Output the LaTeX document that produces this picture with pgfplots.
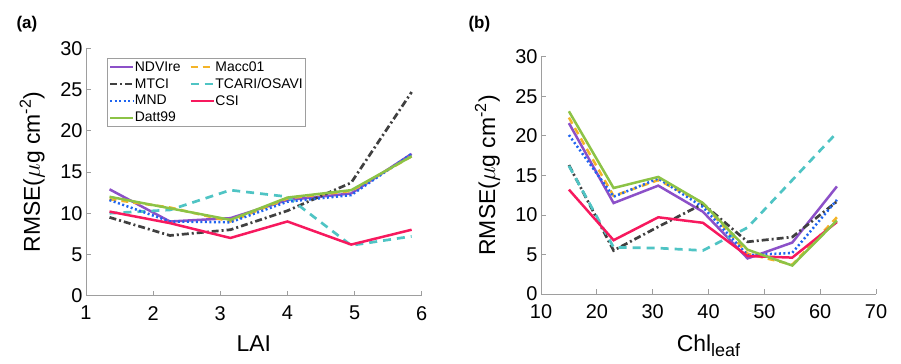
\documentclass[border=0pt]{standalone}
\usepackage{fontspec}
\setmainfont{Liberation Sans}
\usepackage{pgfplots}
\pgfplotsset{compat=1.18}
\definecolor{cNDVI}{HTML}{8C50C8}
\definecolor{cMacc}{HTML}{F4B428}
\definecolor{cMTCI}{HTML}{404040}
\definecolor{cTCARI}{HTML}{4FC4C4}
\definecolor{cMND}{HTML}{1E64F0}
\definecolor{cCSI}{HTML}{F7195E}
\definecolor{cDatt}{HTML}{8CC346}
\pgfplotsset{
  mystyle/.style={
    scale only axis,
    axis x line*=bottom, axis y line*=left,
    axis line style={draw=black!38, line width=0.8pt, -},
    tick style={draw=black!38, line width=0.8pt},
    major tick length=5bp, tick align=inside,
    ymin=0, ymax=30, ytick={0,5,...,30},
    tick label style={font=\fontsize{20}{24}\selectfont},
    xticklabel style={yshift=-7bp},
    /pgf/number format/assume math mode=true,
    label style={font=\fontsize{23}{27}\selectfont},
    ylabel={RMSE($\mu$g cm\textsuperscript{-2})},
    ylabel style={at={(axis description cs:-0.16,0.5)}, anchor=center},
    xlabel style={yshift=-9bp},
  },
  sNDVI/.style={cNDVI, solid, line width=2.5bp},
  sMacc/.style={cMacc, dash pattern=on 7bp off 5bp, line width=2.5bp},
  sMTCI/.style={cMTCI, dash pattern=on 7bp off 3bp on 2bp off 3bp, line width=2.7bp},
  sTCARI/.style={cTCARI, dash pattern=on 8bp off 6bp, line width=2.7bp},
  sMND/.style={cMND, dash pattern=on 2bp off 2.5bp, line width=2.5bp},
  sCSI/.style={cCSI, solid, line width=2.5bp},
  sDatt/.style={cDatt, solid, line width=2.5bp},
}
\pgfplotsset{legend image code/.code={\draw[#1, line width=1.8bp] (0bp,0bp) -- (23bp,0bp);}}
\begin{document}
\begin{tikzpicture}
\useasboundingbox (0,0) rectangle (901bp,364bp);
\begin{axis}[mystyle, at={(86bp,68.3bp)}, anchor=origin, width=335.7bp, height=247.4bp,
  xmin=1, xmax=6, xtick={1,2,...,6}, xlabel={LAI},
  legend columns=2, legend cell align=left,
  legend style={at={(0.062,0.96)}, anchor=north west, draw=black!38, line width=0.6pt,
    font=\fontsize{14}{16}\selectfont, inner xsep=2bp, inner ysep=2bp, row sep=3.5bp,
    nodes={inner sep=1bp},
    /tikz/every even column/.append style={column sep=8bp}},
]
\addplot[sNDVI] coordinates {(1.35,12.9) (2.25,9.0) (3.15,9.4) (4.0,11.6) (4.95,12.4) (5.85,17.2)};
\addlegendentry{NDVIre}
\addplot[sMacc] coordinates {(1.35,11.7) (2.25,10.7) (3.15,9.0) (4.0,11.8) (4.95,12.7) (5.85,16.9)};
\addlegendentry{Macc01}
\addplot[sMTCI] coordinates {(1.35,9.5) (2.25,7.3) (3.15,8.0) (4.0,10.3) (4.95,13.7) (5.85,24.7)};
\addlegendentry{MTCI}
\addplot[sTCARI] coordinates {(1.35,10.0) (2.25,10.4) (3.15,12.8) (4.0,12.0) (4.95,6.1) (5.85,7.2)};
\addlegendentry{TCARI/OSAVI}
\addplot[sMND] coordinates {(1.35,11.6) (2.25,9.0) (3.15,8.9) (4.0,11.4) (4.95,12.2) (5.85,17.2)};
\addlegendentry{MND}
\addplot[sCSI] coordinates {(1.35,10.2) (2.25,8.8) (3.15,7.0) (4.0,9.0) (4.95,6.2) (5.85,8.0)};
\addlegendentry{CSI}
\addplot[sDatt] coordinates {(1.35,12.0) (2.25,10.6) (3.15,9.2) (4.0,11.9) (4.95,12.8) (5.85,16.9)};
\addlegendentry{Datt99}
\end{axis}
\begin{axis}[mystyle, at={(541bp,70bp)}, anchor=origin, width=335bp, height=237.3bp,
  xmin=10, xmax=70, xtick={10,20,...,70},
  xlabel={Chl\raisebox{-0.45ex}{\fontsize{18}{20}\selectfont leaf}},
]
\addplot[sNDVI] coordinates {(15,21.6) (23,11.5) (31,13.7) (39,10.4) (47,4.5) (55,6.5) (63,13.6)};
\addplot[sMacc] coordinates {(15,22.3) (23,12.4) (31,14.4) (39,11.5) (47,5.1) (55,3.7) (63,9.7)};
\addplot[sMTCI] coordinates {(15,16.3) (23,5.5) (31,8.5) (39,11.4) (47,6.6) (55,7.2) (63,11.7)};
\addplot[sTCARI] coordinates {(15,16.2) (23,5.9) (31,5.8) (39,5.5) (47,8.4) (55,14.4) (63,20.4)};
\addplot[sMND] coordinates {(15,20.1) (23,12.3) (31,14.6) (39,11.0) (47,4.9) (55,5.2) (63,11.9)};
\addplot[sCSI] coordinates {(15,13.2) (23,6.8) (31,9.7) (39,9.0) (47,4.8) (55,4.6) (63,9.1)};
\addplot[sDatt] coordinates {(15,23.1) (23,13.4) (31,14.8) (39,11.5) (47,5.6) (55,3.6) (63,9.3)};
\end{axis}
\node[font=\bfseries\fontsize{17}{20}\selectfont, anchor=west] at (13bp,340bp) {(a)};
\node[font=\bfseries\fontsize{17}{20}\selectfont, anchor=west] at (465bp,340bp) {(b)};
\end{tikzpicture}
\end{document}
